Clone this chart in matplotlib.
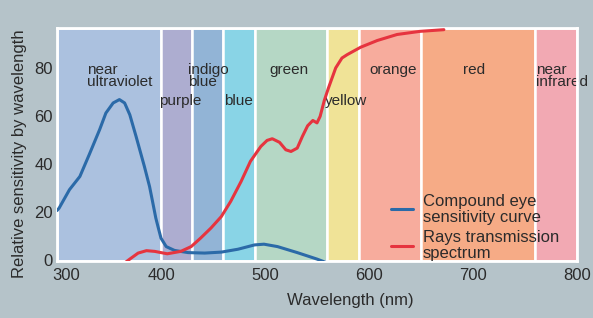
import matplotlib
matplotlib.use("Agg")
import matplotlib.pyplot as plt
import matplotlib.transforms as mtransforms

# ── data ──────────────────────────────────────────────────────────────────────
band_edges  = [300, 400, 430, 460, 490, 560, 590, 650, 760, 800]
band_colors = ["#abc1df", "#adadd0", "#92b4d6", "#89d4e6", "#b5d7c5",
               "#f0e397", "#f7ac9d", "#f6ab86", "#f2a9b3"]

# band labels: text, x (nm), y, horizontal alignment
band_labels = [
    ("near\nultraviolet", 329, 76.5, "left"),
    ("purple",            398, 66.0, "left"),
    ("indigo\nblue",      426, 76.5, "left"),
    ("blue",              461, 66.0, "left"),
    ("green",             523, 79.0, "center"),
    ("yellow",            558, 66.0, "left"),
    ("orange",            623, 79.0, "center"),
    ("red",               701, 79.0, "center"),
    ("near\ninfrared",    761, 76.5, "left"),
]

eye_nm  = [300, 302, 312, 322, 331, 341, 347, 354, 360, 365, 370, 376, 384,
           389, 392, 395, 397, 400, 405, 413, 426, 442, 458, 474, 490, 499,
           512, 531, 550, 558]
eye_val = [20.5, 21.5, 29.2, 34.7, 43.8, 54.2, 61.1, 65.3, 66.7, 65.3, 60.4,
           51.4, 38.9, 30.5, 24.0, 17.4, 14.0, 9.0, 5.5, 3.9, 3.0, 2.8, 3.2,
           4.4, 6.2, 6.5, 5.5, 3.0, 0.3, -1.0]

ray_nm  = [366, 370, 378, 386, 394, 406, 419, 429, 438, 448, 458, 467, 477,
           486, 496, 502, 507, 514, 520, 525, 531, 536, 541, 546, 550, 553,
           557, 561, 568, 574, 579, 592, 608, 627, 649, 672]
ray_val = [-1.0, 0.3, 2.8, 3.8, 3.5, 2.5, 3.5, 5.5, 9.0, 13.2, 18.0, 24.3,
           32.6, 41.0, 47.2, 49.7, 50.4, 48.9, 45.8, 45.1, 46.5, 51.4, 55.8,
           58.0, 57.0, 59.7, 66.3, 71.5, 79.9, 84.0, 85.4, 88.5, 91.3, 93.8,
           95.1, 95.8]

x_ticks = [300, 400, 500, 600, 700, 800]
y_ticks = [0, 20, 40, 60, 80]

# ── style ─────────────────────────────────────────────────────────────────────
BG       = "#b5c3c9"
TXT      = "#2b2b2b"
EYE_CLR  = "#2b6aa8"
RAY_CLR  = "#e6343f"
plt.rcParams["font.family"] = ["Liberation Sans", "DejaVu Sans"]

fig = plt.figure(figsize=(5.93, 3.18), dpi=100, facecolor=BG)
ax = fig.add_axes([57 / 593, 1 - 261 / 318, 520 / 593, 233 / 318])
ax.set_facecolor("white")

for lo, hi, c in zip(band_edges[:-1], band_edges[1:], band_colors):
    ax.axvspan(lo, hi, facecolor=c, edgecolor="white", lw=1.8, zorder=1)

for txt, x, y, ha in band_labels:
    ax.text(x, y, txt, ha=ha, va="center", fontsize=11, color=TXT,
            linespacing=0.82, zorder=2)

ax.plot(eye_nm, eye_val, color=EYE_CLR, lw=2.2, solid_capstyle="round",
        solid_joinstyle="round", zorder=3, label="Compound eye\nsensitivity curve")
ax.plot(ray_nm, ray_val, color=RAY_CLR, lw=2.2, solid_capstyle="round",
        solid_joinstyle="round", zorder=3, label="Rays transmission\nspectrum")

ax.set_xlim(300, 800)
ax.set_ylim(-0.5, 96.5)
ax.set_xticks(x_ticks)
ax.set_yticks(y_ticks)
ax.tick_params(length=0, labelsize=12, colors=TXT)
ax.tick_params(axis="x", pad=5)
ax.tick_params(axis="y", pad=3)
for s in ax.spines.values():
    s.set_color("white")
    s.set_linewidth(2)

# the "300" label sits a little to the right of its tick
shift = mtransforms.ScaledTranslation(9 / 100, 0, fig.dpi_scale_trans)
lbl0 = ax.get_xticklabels()[0]
lbl0.set_transform(lbl0.get_transform() + shift)

leg = ax.legend(loc="lower left", bbox_to_anchor=(391 / 593, 57 / 318),
                bbox_transform=fig.transFigure, frameon=False, fontsize=12,
                handlelength=1.3, handletextpad=0.6, borderpad=0,
                borderaxespad=0, labelspacing=0.35)
for t in leg.get_texts():
    t.set_color(TXT)
    t.set_linespacing(1.05)

fig.text(350 / 593, 1 - 301 / 318, "Wavelength (nm)", ha="center",
         va="center", fontsize=12, color=TXT)
fig.text(20 / 593, 1 - 154 / 318, "Relative sensitivity by wavelength",
         ha="center", va="center", rotation=90, fontsize=12, color=TXT)

fig.savefig("out.png", dpi=100, facecolor=BG)
